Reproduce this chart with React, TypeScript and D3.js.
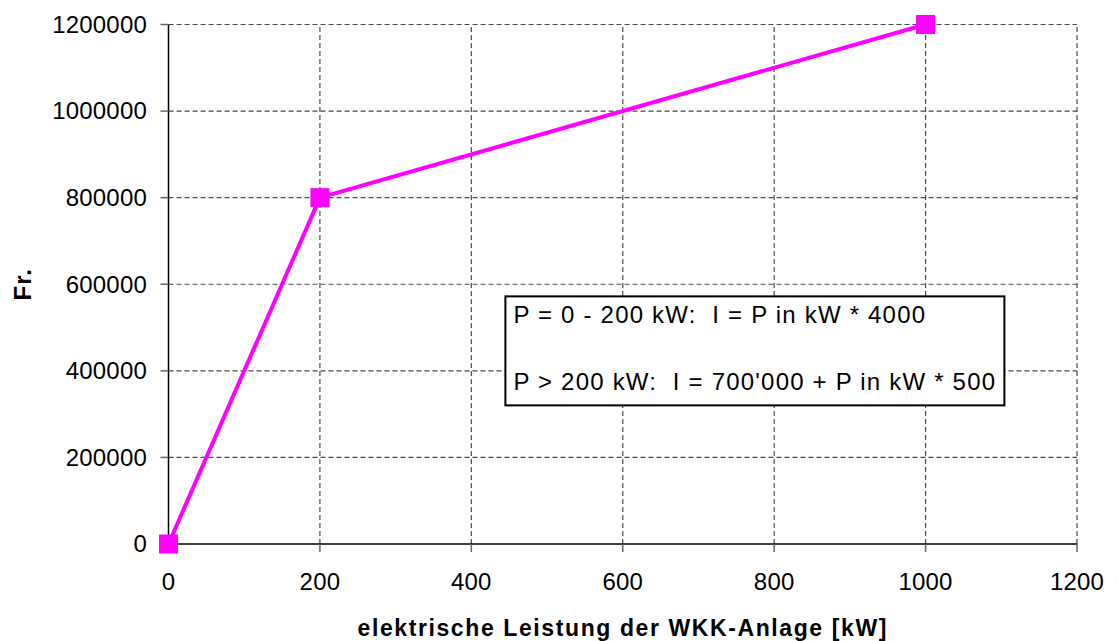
import * as d3 from 'd3';

// data
const powerKW = [0, 200, 1000];
const costFr = [0, 800000, 1200000];
const xTicks = [0, 200, 400, 600, 800, 1000, 1200];
const yTicks = [0, 200000, 400000, 600000, 800000, 1000000, 1200000];
const noteLines = ['P = 0 - 200 kW:  I = P in kW * 4000', 'P > 200 kW:  I = 700\'000 + P in kW * 500'];

const W = 1119;
const H = 641;
const margin = { top: 24.5, right: 42, bottom: 97, left: 168.5 };

export default function App() {
  const x = d3.scaleLinear().domain([0, 1200]).range([margin.left, W - margin.right]);
  const y = d3.scaleLinear().domain([0, 1200000]).range([H - margin.bottom, margin.top]);

  const line = d3.line<number>()
    .x((_, i) => x(powerKW[i]))
    .y((d) => y(d));

  const font = "'Liberation Sans', Arial, sans-serif";
  const gridColor = '#4a4a4a';
  const x0 = x(0), x1 = x(1200), y0 = y(0), y1 = y(1200000);

  // note box placement in data coords
  const boxX = x(445), boxY = y(572000);
  const boxW = 499, boxH = 109;

  return (
    <div>
      <style>{`body{margin:0}`}</style>
      <svg width={W} height={H} style={{ display: 'block', fontFamily: font }}>
        <rect width={W} height={H} fill="#fff" />

        {/* grid */}
        {yTicks.filter((t) => t > 0).map((t) => (
          <line key={'gy' + t} x1={x0} x2={x1} y1={y(t)} y2={y(t)}
            stroke={gridColor} strokeWidth={1.2} strokeDasharray="5,3" />
        ))}
        {xTicks.filter((t) => t > 0).map((t) => (
          <line key={'gx' + t} x1={x(t)} x2={x(t)} y1={y0} y2={y1}
            stroke={gridColor} strokeWidth={1.2} strokeDasharray="5,3" />
        ))}

        {/* axes */}
        <line x1={x0} x2={x0} y1={y1} y2={y0} stroke="#000" strokeWidth={1.5} />
        <line x1={x0} x2={x1} y1={y0} y2={y0} stroke="#000" strokeWidth={1.5} />
        {yTicks.map((t) => (
          <g key={'ty' + t}>
            <line x1={x0 - 8} x2={x0} y1={y(t)} y2={y(t)} stroke="#666" strokeWidth={1.5} />
            <text x={147} y={y(t)} dy="0.35em" textAnchor="end" fontSize={24} letterSpacing={0.2} fill="#000">{t}</text>
          </g>
        ))}
        {xTicks.map((t) => (
          <g key={'tx' + t}>
            <line x1={x(t)} x2={x(t)} y1={y0} y2={y0 + 8} stroke="#666" strokeWidth={1.5} />
            <text x={x(t)} y={590} textAnchor="middle" fontSize={24} letterSpacing={0.2} fill="#000">{t}</text>
          </g>
        ))}

        {/* note */}
        <rect x={boxX} y={boxY} width={boxW} height={boxH} fill="#fff" stroke="#000" strokeWidth={2} />
        {noteLines.map((s, i) => (
          <text key={s} x={boxX + 8} y={boxY + 27 + i * 67} fontSize={24} letterSpacing={1.2} fill="#000"
            style={{ whiteSpace: 'pre' }}>{s}</text>
        ))}

        {/* series */}
        <path d={line(costFr) || ''} fill="none" stroke="#ff00ff" strokeWidth={4} />
        {costFr.map((v, i) => (
          <rect key={'m' + i} x={x(powerKW[i]) - 9.5} y={y(v) - 9.5} width={19} height={19} fill="#ff00ff" />
        ))}

        {/* titles */}
        <text x={(x0 + x1) / 2} y={636} textAnchor="middle" fontSize={23} letterSpacing={1.6} fontWeight="bold">
          elektrische Leistung der WKK-Anlage [kW]
        </text>
        <text transform={`translate(31, ${(y0 + y1) / 2}) rotate(-90)`} textAnchor="middle"
          fontSize={24} letterSpacing={1} fontWeight="bold">Fr.</text>
      </svg>
    </div>
  );
}
